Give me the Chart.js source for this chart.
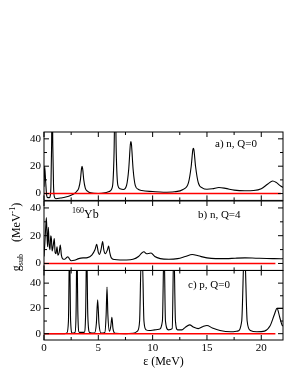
<!DOCTYPE html>
<html>
<head>
<meta charset="utf-8">
<script src="https://cdn.jsdelivr.net/npm/chart.js@4"></script>
<style>
  body { margin: 0; background: #fff; }
  #wrap { position: relative; width: 298px; height: 385px; font-family: "Liberation Serif", serif; color: #000; }
  canvas { position: absolute; left: 0; }
  .lbl { position: absolute; font-size: 11px; line-height: 11px; white-space: nowrap; }
  #ytitle { position: absolute; left: 16px; top: 237px; font-size: 12px; line-height: 12px; white-space: nowrap;
            transform: translate(-50%, -50%) rotate(-90deg); }
  sup, sub { font-size: 8px; line-height: 0; }
</style>
</head>
<body>
<div id="wrap">
  <canvas id="pa" width="298" height="90" style="top:120px"></canvas>
  <canvas id="pb" width="298" height="90" style="top:190px"></canvas>
  <canvas id="pc" width="298" height="125" style="top:260px"></canvas>
  <div class="lbl" style="left:215px;top:138px">a) n, Q=0</div>
  <div class="lbl" style="left:198px;top:209px">b) n, Q=4</div>
  <div class="lbl" style="left:188px;top:279px">c) p, Q=0</div>
  <div class="lbl" style="left:72px;top:208px;font-size:12px;line-height:12px"><sup>160</sup>Yb</div>
  <div id="ytitle">g<sub>sub</sub>&nbsp;&nbsp;&nbsp;&nbsp;(MeV<sup>-1</sup>)</div>
</div>
<script>
// x axis ticks (MeV)
const xMajor = [0, 5, 10, 15, 20];
const xMinor = [2.5, 7.5, 12.5, 17.5];

// a) n, Q=0
const aX = [0, 0.06, 0.15, 0.25, 0.35, 0.5, 0.58, 0.64, 0.7, 0.75, 0.81, 0.88, 0.98, 1.1, 1.5, 2.0, 2.5, 2.8,
            3.0, 3.2, 3.35, 3.45, 3.5, 3.56, 3.66, 3.8, 4.0, 4.3, 5.0, 5.6, 6.0, 6.3, 6.45, 6.55, 6.65, 6.8,
            7.0, 7.3, 7.6, 7.8, 7.95, 8.0, 8.05, 8.2, 8.4, 8.7, 9.0, 10, 11, 12, 12.8, 13.3, 13.55, 13.7,
            13.75, 13.8, 13.95, 14.2, 14.6, 15, 15.5, 16.1, 16.7, 17.5, 18.5, 19.3, 20, 20.6, 21.05, 21.4, 21.7, 22];
const aY = [5, 20, 9, -1.5, -3, -3, -1.5, 6, 35, 80, 35, 5, -3, -3.8, -3.3, -2.5, -1.2, 0,
            1.5, 4, 10, 18, 20, 18, 10, 4, 1.8, 0.5, 0, 0.5, 1.5, 5, 30, 80, 30, 6,
            3.5, 3, 6, 18, 36, 38, 36, 18, 6, 3, 2.2, 1.5, 1, 1.3, 3, 8, 20, 32,
            33, 32, 20, 8, 4, 3.2, 3.5, 4.4, 3.8, 2.5, 2, 2.2, 3.5, 7, 9.2, 8, 6, 4.5];

// b) n, Q=4
const bX = [0, 0.08, 0.15, 0.22, 0.28, 0.33, 0.4, 0.47, 0.55, 0.62, 0.68, 0.75, 0.85, 0.95, 1.02, 1.1, 1.2,
            1.28, 1.4, 1.5, 1.6, 1.73, 1.9, 2.05, 2.2, 2.35, 2.5, 2.8, 3.2, 3.6, 4.0, 4.4, 4.7, 4.85, 5.0,
            5.1, 5.25, 5.4, 5.5, 5.65, 5.85, 5.95, 6.05, 6.2, 6.5, 7.0, 7.6, 8.2, 8.7, 9.0, 9.2, 9.45, 9.65,
            9.85, 10.2, 10.7, 11.5, 12.3, 13.0, 13.65, 14.2, 15, 15.8, 16.8, 17.6, 18.5, 19.5, 20.5, 21.2, 22];
const bY = [5, 15, 25, 33, 20, 12, 26, 14, 10, 20, 18, 9, 13, 18, 8, 7, 12,
            6, 8, 13.3, 6, 3.2, 3, 4, 4.8, 3.2, 2, 2.3, 3.5, 4, 4.2, 6, 10, 13.8, 8,
            6.5, 10, 15.7, 10, 7, 10, 12.6, 8, 4, 2.8, 2.5, 2.5, 3, 5, 7.5, 8.4, 7, 7.2,
            7.5, 5, 3.5, 3, 3.5, 5, 6.5, 5.5, 4, 3.5, 3.5, 3.8, 4, 3.8, 3.6, 3.5, 3.4];

// c) p, Q=0
const cX = [0, 1.9, 2.1, 2.25, 2.35, 2.45, 2.6, 2.85, 2.95, 3.03, 3.12, 3.25, 3.7, 3.83, 3.93, 4.03, 4.2,
            4.65, 4.82, 4.94, 5.06, 5.25, 5.6, 5.72, 5.8, 5.88, 6.02, 6.15, 6.25, 6.35, 6.55, 7.5, 8.2, 8.6,
            8.8, 8.95, 9.05, 9.2, 9.4, 9.7, 10.2, 10.6, 10.9, 11.05, 11.18, 11.45, 11.8, 11.95, 12.1, 12.3,
            12.7, 13.0, 13.4, 13.8, 14.2, 14.6, 15.0, 15.5, 16.2, 17.2, 17.8, 18.2, 18.45, 18.7, 19.0, 19.6,
            20.3, 20.8, 21.2, 21.45, 21.7, 21.9, 22];
const cY = [0, 0, 0.5, 10, 70, 10, 0.5, 1, 15, 70, 15, 1, 1, 15, 70, 15, 1,
            0.5, 8, 26.8, 8, 0.5, 1, 15, 37, 15, 2, 6, 13, 4, 0.3, 0, 0.3, 2,
            10, 60, 60, 10, 3, 2.5, 3, 3.5, 10, 70, 10, 3, 4, 70, 10, 3,
            3, 5, 7, 5, 4, 5.5, 6.5, 4.5, 2.5, 1.5, 2, 10, 70, 10, 2.5, 1.5,
            2, 6, 15, 20, 13, 7, 6];
const cTailX = [21.45, 22];
const cTailY = [20, 20];

// zero reference line end per panel
const zeroEnd = [21.8, 21.3, 21.3];

const pts = (xs, ys) => xs.map((x, i) => ({ x: x, y: ys[i] }));

// frame + inward ticks on all four sides
const frameTicks = {
  id: 'frameTicks',
  afterDatasetsDraw(chart, args, opts) {
    const { ctx, chartArea: a, scales } = chart;
    const xs = scales.x, ys = scales.y;
    ctx.save();
    ctx.strokeStyle = '#000';
    ctx.lineWidth = 1;
    ctx.strokeRect(a.left, a.top, a.right - a.left, a.bottom - a.top);
    ctx.beginPath();
    const xt = (list, len) => list.forEach(v => {
      const p = xs.getPixelForValue(v);
      ctx.moveTo(p, a.bottom); ctx.lineTo(p, a.bottom - len);
      ctx.moveTo(p, a.top); ctx.lineTo(p, a.top + len);
    });
    const yt = (list, len) => list.forEach(v => {
      const p = ys.getPixelForValue(v);
      ctx.moveTo(a.left, p); ctx.lineTo(a.left + len, p);
      ctx.moveTo(a.right, p); ctx.lineTo(a.right - len, p);
    });
    xt(xMajor, 5); xt(xMinor, 3);
    yt(opts.yMajor, 5); yt(opts.yMinor, 3);
    ctx.stroke();
    ctx.restore();
  }
};

function makePanel(id, xs, ys, yMax, zEnd, pad, showX, extra) {
  const datasets = [
    { data: pts([0, zEnd], [0, 0]), borderColor: '#ff0000', borderWidth: 1.6 },
    { data: pts(xs, ys), borderColor: '#000', borderWidth: 1.1, cubicInterpolationMode: 'monotone' }
  ];
  if (extra) datasets.push({ data: extra, borderColor: '#000', borderWidth: 1.1 });
  new Chart(document.getElementById(id), {
    type: 'line',
    data: { datasets: datasets },
    options: {
      responsive: false,
      animation: false,
      layout: { padding: pad },
      elements: { point: { radius: 0 } },
      plugins: {
        legend: { display: false },
        tooltip: { enabled: false },
        frameTicks: { yMajor: [0, 20, 40], yMinor: yMax > 45 ? [10, 30, 50] : [10, 30] }
      },
      scales: {
        x: {
          type: 'linear', min: 0, max: 22,
          display: showX,
          grid: { display: false, drawTicks: false },
          border: { display: false },
          afterBuildTicks: s => { s.ticks = xMajor.map(v => ({ value: v })); },
          afterFit: s => { s.height = showX ? 45 : 0; },
          ticks: { padding: 2, autoSkip: false, color: '#000', font: { family: 'Liberation Serif', size: 11 } },
          title: { display: true, text: 'ε (MeV)', color: '#000', padding: { top: 0, bottom: 16 },
                   font: { family: 'Liberation Serif', size: 12 } }
        },
        y: {
          min: -5, max: yMax,
          grid: { display: false, drawTicks: false },
          border: { display: false },
          afterBuildTicks: s => { s.ticks = [0, 20, 40].map(v => ({ value: v })); },
          afterFit: s => { s.width = 44; },
          ticks: { padding: 3, autoSkip: false, color: '#000', font: { family: 'Liberation Serif', size: 11 } }
        }
      }
    },
    plugins: [frameTicks]
  });
}

makePanel('pa', aX, aY, 45, zeroEnd[0], { top: 12, bottom: 9, left: 0, right: 15 }, false);
makePanel('pb', bX, bY, 45, zeroEnd[1], { top: 11, bottom: 9.5, left: 0, right: 15 }, false);
makePanel('pc', cX, cY, 50, zeroEnd[2], { top: 10.5, bottom: 0, left: 0, right: 15 }, true, pts(cTailX, cTailY));
</script>
</body>
</html>
